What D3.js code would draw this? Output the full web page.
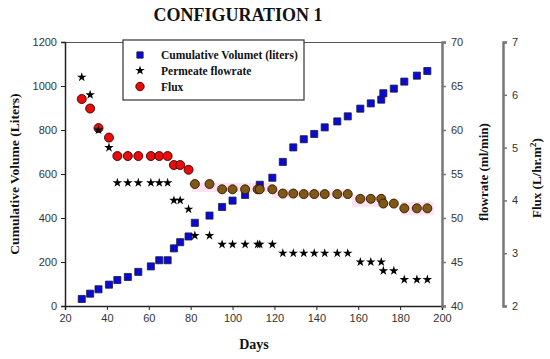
<!DOCTYPE html>
<html>
<head>
<meta charset="utf-8">
<script src="https://cdn.jsdelivr.net/npm/d3@7"></script>
<style>
  html, body { margin: 0; padding: 0; background: #fff; }
  svg { display: block; }
  .tick text { font-family: "Liberation Sans", Arial, sans-serif; font-size: 11px; fill: #333; }
  .lbl { font-family: "Liberation Serif", "Times New Roman", serif; font-weight: bold; fill: #111; }
</style>
</head>
<body>
<div id="chart"></div>
<script>
// cumulative volume (liters) vs days
const volDays = [28,32,36,41,45,50,55,61,65,69,72,75,79,82,89,95,100,106,113,119,124,129,134,139,144,150,155,161,166,171,172,177,182,188,193];
const volume  = [32,56,76,97,118,132,155,180,208,208,262,290,316,378,411,450,479,505,551,583,655,721,758,782,812,839,862,897,921,938,967,988,1020,1047,1068];

// permeate flowrate (ml/min)
const flowDays = [28,32,36,41,45,50,55,61,65,69,72,75,79,82,89,95,100,106,112,113,119,124,129,134,139,144,150,155,161,166,171,172,177,182,188,193];
const flowrate = [66,64,60,58,54,54,54,54,54,54,52,52,51,48,48,47,47,47,47,47,47,46,46,46,46,46,46,46,45,45,45,44,44,43,43,43];

// flux (L/hr.m2)
const fluxDays = flowDays;
const flux = [5.92,5.74,5.37,5.19,4.84,4.84,4.84,4.84,4.84,4.84,4.67,4.67,4.58,4.31,4.31,4.21,4.21,4.21,4.21,4.21,4.21,4.13,4.13,4.12,4.12,4.12,4.12,4.12,4.03,4.03,4.03,3.94,3.94,3.85,3.85,3.85];

// pale highlight bands behind the flux points: [dayFrom, dayTo, fluxLow, fluxHigh]
const bands = [
  [80.5, 118.5, 4.16, 4.33],
  [119, 156.5, 4.04, 4.20],
  [157, 172.5, 3.88, 4.10],
  [180.5, 196, 3.72, 3.97]
];

const xTicks = [20,40,60,80,100,120,140,160,180,200];
const volTicks = [0,200,400,600,800,1000,1200];
const flowTicks = [40,45,50,55,60,65,70];
const fluxTicks = [2,3,4,5,6,7];

const W = 550, H = 359;
const svg = d3.select('#chart').append('svg').attr('width', W).attr('height', H);

const x = d3.scaleLinear().domain([20,200]).range([65,442]);
const yVol = d3.scaleLinear().domain([0,1200]).range([306,42]);
const yFlow = d3.scaleLinear().domain([40,70]).range([306,42]);
const yFlux = d3.scaleLinear().domain([2,7]).range([306,42]);
const fmt = d3.format('d');

// title
svg.append('text').attr('class','lbl').attr('x',238).attr('y',21)
  .attr('text-anchor','middle').style('font-size','18px').text('CONFIGURATION 1');

// highlight bands
svg.append('g').selectAll('rect').data(bands).join('rect')
  .attr('x', d => x(d[0])).attr('width', d => x(d[1]) - x(d[0]))
  .attr('y', d => yFlux(d[3])).attr('height', d => yFlux(d[2]) - yFlux(d[3]))
  .attr('fill', '#fbe2f1');

// frame top line
svg.append('line').attr('x1',65).attr('x2',442).attr('y1',42.5).attr('y2',42.5)
  .attr('stroke','#555').attr('stroke-width',1);

// axes
const gx = svg.append('g').attr('transform','translate(0,306)')
  .call(d3.axisBottom(x).tickValues(xTicks).tickFormat(fmt).tickSize(4).tickPadding(4));
const gy = svg.append('g').attr('transform','translate(65,0)')
  .call(d3.axisLeft(yVol).tickValues(volTicks).tickFormat(fmt).tickSize(4).tickPadding(4));
const gf = svg.append('g').attr('transform','translate(442,0)')
  .call(d3.axisRight(yFlow).tickValues(flowTicks).tickFormat(fmt).tickSize(4).tickPadding(5));
const gq = svg.append('g').attr('transform','translate(503,0)')
  .call(d3.axisRight(yFlux).tickValues(fluxTicks).tickFormat(fmt).tickSize(4).tickPadding(5));

[gx, gy].forEach(g => {
  g.select('.domain').attr('stroke','#222').attr('stroke-width',1.5);
  g.selectAll('.tick line').attr('stroke','#222');
});
[gf, gq].forEach(g => {
  g.select('.domain').attr('stroke','#777').attr('stroke-width',2.5);
  g.selectAll('.tick line').attr('stroke','#777').attr('stroke-width',1.5);
});

// axis titles
svg.append('text').attr('class','lbl').style('font-size','13.5px')
  .attr('transform','translate(19,174) rotate(-90)').attr('text-anchor','middle')
  .text('Cumulative Volume (Liters)');
svg.append('text').attr('class','lbl').style('font-size','14px')
  .attr('x',254).attr('y',349).attr('text-anchor','middle').text('Days');
svg.append('text').attr('class','lbl').style('font-size','13px')
  .attr('transform','translate(488,172) rotate(-90)').attr('text-anchor','middle')
  .text('flowrate (ml/min)');
const fl = svg.append('text').attr('class','lbl').style('font-size','13px')
  .attr('transform','translate(541,178) rotate(-90)').attr('text-anchor','middle');
fl.append('tspan').text('Flux  (L/hr.m');
fl.append('tspan').attr('dy',-5).style('font-size','9px').text('2');
fl.append('tspan').attr('dy',5).text(')');

// points
const sq = d3.symbol().type(d3.symbolSquare).size(50);
const star = d3.symbol().type(d3.symbolStar).size(28);

svg.append('g').selectAll('path').data(volDays.map((d,i)=>[d, volume[i]])).join('path')
  .attr('d', sq).attr('transform', d => `translate(${x(d[0])},${yVol(d[1])})`)
  .attr('fill','#0a0ad2').attr('stroke','#1a1a40').attr('stroke-width',0.8);

svg.append('g').selectAll('circle').data(fluxDays.map((d,i)=>[d, flux[i]])).join('circle')
  .attr('cx', d => x(d[0])).attr('cy', d => yFlux(d[1])).attr('r',4.5)
  .attr('fill', d => d[0] < 80 ? '#e80c0c' : '#7e5916')
  .attr('stroke', d => d[0] < 80 ? '#3a0000' : '#3a1000').attr('stroke-width',0.9);

svg.append('g').selectAll('path').data(flowDays.map((d,i)=>[d, flowrate[i]])).join('path')
  .attr('d', star).attr('transform', d => `translate(${x(d[0])},${yFlow(d[1])})`)
  .attr('fill','#000');

// legend
const lg = svg.append('g');
lg.append('rect').attr('x',123).attr('y',40).attr('width',181).attr('height',60)
  .attr('fill','#fff').attr('stroke','#333').attr('stroke-width',1.2);
const items = [
  {label:'Cumulative Volumet (liters)', y:55},
  {label:'Permeate flowrate', y:70.5},
  {label:'Flux', y:86.5}
];
lg.append('path').attr('d', d3.symbol().type(d3.symbolSquare).size(40))
  .attr('transform', `translate(140,${items[0].y})`).attr('fill','#0a0ad2').attr('stroke','#1a1a40').attr('stroke-width',0.8);
lg.append('path').attr('d', star).attr('transform', `translate(140,${items[1].y})`).attr('fill','#000');
lg.append('circle').attr('cx',140).attr('cy',items[2].y).attr('r',4.2)
  .attr('fill','#e80c0c').attr('stroke','#3a0000').attr('stroke-width',0.9);
lg.selectAll('text').data(items).join('text').attr('class','lbl')
  .style('font-size','11.5px').attr('x',161).attr('y', d => d.y + 4).text(d => d.label);
</script>
</body>
</html>
